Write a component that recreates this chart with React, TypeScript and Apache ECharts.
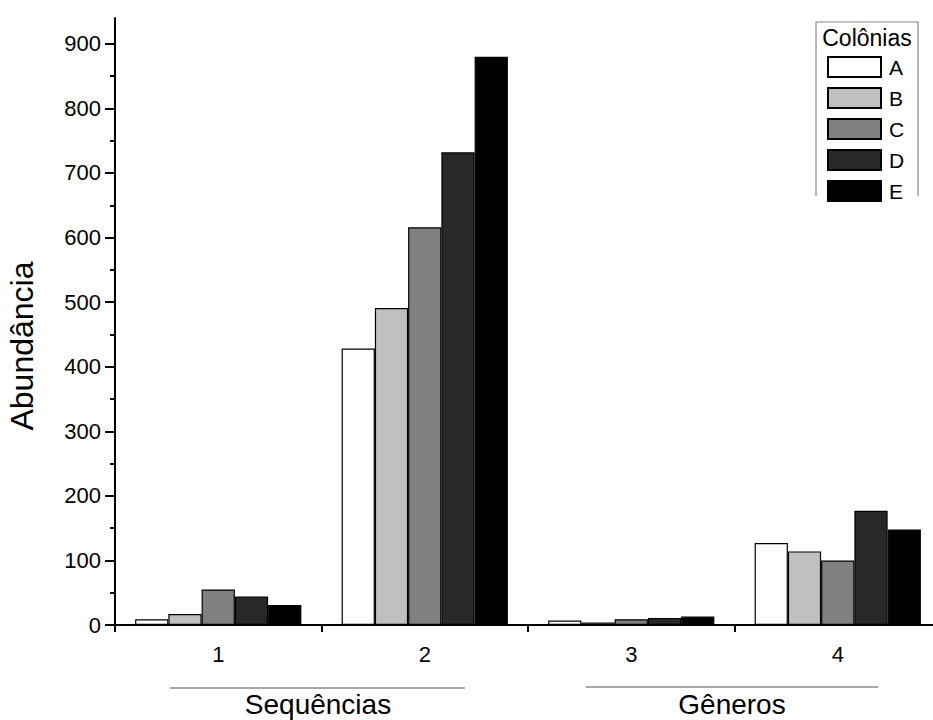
import React, { useEffect, useRef } from "react";
import * as echarts from "echarts";

const categories = ["1", "2", "3", "4"];
const seriesNames = ["A", "B", "C", "D", "E"];
const colonyA = [9, 428, 7, 127];
const colonyB = [17, 491, 4, 114];
const colonyC = [55, 616, 9, 100];
const colonyD = [44, 732, 11, 177];
const colonyE = [31, 880, 13, 148];
const seriesColors = ["#ffffff", "#c0c0c0", "#808080", "#282828", "#000000"];
const yMajorTicks = [0, 100, 200, 300, 400, 500, 600, 700, 800, 900];
const yMinorTicks = [50, 150, 250, 350, 450, 550, 650, 750, 850];
const legendTitle = "Colônias";
const yTitle = "Abundância";
const groupLabels = ["Sequências", "Gêneros"];

const FONT = "'Liberation Sans', Arial, sans-serif";

export default function App() {
  const ref = useRef<HTMLDivElement>(null);
  useEffect(() => {
    if (!ref.current) return;
    const chart = echarts.init(ref.current, undefined, { renderer: "svg" });
    const values = [colonyA, colonyB, colonyC, colonyD, colonyE];
    const option: any = {
      animation: false,
      backgroundColor: "#ffffff",
      textStyle: { fontFamily: FONT },
      grid: { left: 115, right: 9, top: 18, bottom: 95, containLabel: false },
      legend: {
        orient: "vertical",
        left: 827,
        top: 56,
        padding: 0,
        itemWidth: 53,
        itemHeight: 20,
        itemGap: 9,
        icon: "rect",
        selectedMode: false,
        textStyle: { fontSize: 21, color: "#000", fontFamily: FONT, padding: [0, 0, 0, 3] },
        data: seriesNames,
      },
      xAxis: [
        {
          type: "category",
          data: categories,
          position: "bottom",
          axisLine: { lineStyle: { color: "#000", width: 2 } },
          axisTick: { alignWithLabel: true, length: 13, lineStyle: { color: "#000", width: 2 } },
          axisLabel: { fontSize: 22, color: "#000", margin: 18, fontFamily: FONT },
          splitLine: { show: false },
        },
        {
          type: "category",
          data: categories,
          position: "bottom",
          offset: 0,
          axisLine: { show: false },
          axisTick: { show: true, length: 7, lineStyle: { color: "#000", width: 2 } },
          axisLabel: { show: false },
          splitLine: { show: false },
        },
      ],
      yAxis: [
        {
          type: "value",
          min: 0,
          max: 940,
          position: "left",
          axisLine: { show: true, lineStyle: { color: "#000", width: 2 } },
          axisTick: { show: true, length: 10, customValues: yMajorTicks, lineStyle: { color: "#000", width: 2 } },
          axisLabel: { fontSize: 22, color: "#000", margin: 14, customValues: yMajorTicks, fontFamily: FONT },
          splitLine: { show: false },
        },
        {
          type: "value",
          min: 0,
          max: 940,
          position: "left",
          offset: 0,
          axisLine: { show: false },
          axisTick: { show: true, length: 5, customValues: yMinorTicks, lineStyle: { color: "#000", width: 2 } },
          axisLabel: { show: false },
          splitLine: { show: false },
        },
      ],
      series: seriesNames.map((name, i) => ({
        name,
        type: "bar",
        xAxisIndex: 0,
        yAxisIndex: 0,
        data: values[i],
        barGap: "0%",
        barCategoryGap: "19.5%",
        itemStyle: { color: seriesColors[i], borderColor: "#000", borderWidth: 1.2 },
      })),
      graphic: [
        {
          type: "polyline",
          shape: { points: [[816, 196], [816, 22], [918, 22], [918, 196]] },
          style: { stroke: "#888", lineWidth: 1.2, fill: "none" },
        },
        {
          type: "text",
          x: 867,
          y: 38,
          style: { text: legendTitle, fontSize: 23, fontFamily: FONT, fill: "#000", align: "center", verticalAlign: "middle" },
        },
        {
          type: "text",
          x: 22,
          y: 346,
          rotation: Math.PI / 2,
          style: { text: yTitle, fontSize: 32, fontFamily: FONT, fill: "#000", align: "center", verticalAlign: "middle" },
        },
        {
          type: "line",
          shape: { x1: 170, y1: 688, x2: 465, y2: 688 },
          style: { stroke: "#8a8a8a", lineWidth: 1.5 },
        },
        {
          type: "line",
          shape: { x1: 586, y1: 687, x2: 878, y2: 687 },
          style: { stroke: "#8a8a8a", lineWidth: 1.5 },
        },
        {
          type: "text",
          x: 318,
          y: 704,
          style: { text: groupLabels[0], fontSize: 28, fontFamily: FONT, fill: "#000", align: "center", verticalAlign: "middle" },
        },
        {
          type: "text",
          x: 732,
          y: 704,
          style: { text: groupLabels[1], fontSize: 28, fontFamily: FONT, fill: "#000", align: "center", verticalAlign: "middle" },
        },
      ],
    };
    chart.setOption(option);
    return () => chart.dispose();
  }, []);
  return (
    <div
      ref={ref}
      style={{ position: "fixed", left: 0, top: 0, width: 950, height: 720, background: "#fff" }}
    />
  );
}
